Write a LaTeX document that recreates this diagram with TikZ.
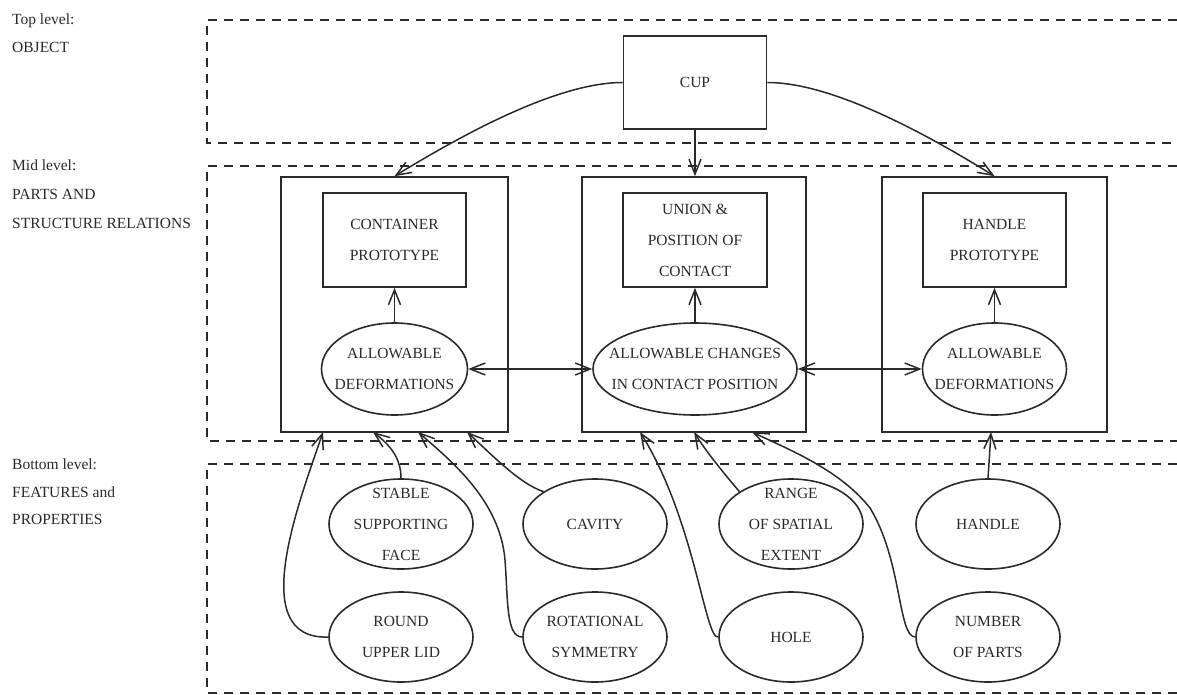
\documentclass[tikz,border=0pt]{standalone}
\usepackage{fontspec}
\setmainfont{Liberation Serif}
\usetikzlibrary{arrows.meta,shapes.geometric}
\definecolor{ink}{HTML}{2a2a2a}
\begin{document}
\begin{tikzpicture}[x=1pt,y=-1pt,
  box/.style={draw=ink, line width=1.6pt, rectangle, inner sep=0pt},
  ell/.style={draw=ink, line width=1.6pt, ellipse, inner sep=0pt, minimum width=144pt, minimum height=90pt},
  txt/.style={font=\fontsize{15.5pt}{31pt}\selectfont, align=center, text=ink, inner sep=0pt},
  lbl/.style={font=\fontsize{15.5pt}{18pt}\selectfont, anchor=base west, inner sep=0pt, text=ink},
  arr/.style={draw=ink, line width=1.5pt, -{Straight Barb[length=15pt,width=12pt]}},
  darr/.style={draw=ink, line width=1.5pt, {Straight Barb[length=15pt,width=12pt]}-{Straight Barb[length=15pt,width=12pt]}},
  dashline/.style={draw=ink, line width=1.6pt, dash pattern=on 9pt off 7pt}]
\useasboundingbox[fill=white] (0,0) rectangle (1177,695);

% level frames
\draw[dashline] (1177,20) -- (207,20) -- (207,143) -- (1177,143);
\draw[dashline] (1177,166) -- (207,166) -- (207,441) -- (1177,441);
\draw[dashline] (1177,464) -- (207,464) -- (207,693) -- (1177,693);

% level labels
\node[lbl] (t1) at (12,25) {Top level:};
\node[lbl] (t2) at (12,53) {OBJECT};
\node[lbl] (m1) at (12,171) {Mid level:};
\node[lbl] (m2) at (12,200) {PARTS AND};
\node[lbl] (m3) at (12,228) {STRUCTURE RELATIONS};
\node[lbl] (b1) at (12,469) {Bottom level:};
\node[lbl] (b2) at (12,497) {FEATURES and};
\node[lbl] (b3) at (12,524) {PROPERTIES};

% top
\node[box, minimum width=143pt, minimum height=93pt] (cup) at (695,82.5) {};
\node[txt] (cupt) at (cup) {CUP};

% mid outer boxes
\node[box, minimum width=227pt, minimum height=255pt] (Lout) at (394.5,304.5) {};
\node[box, minimum width=224pt, minimum height=255pt] (Mout) at (694,304.5) {};
\node[box, minimum width=225pt, minimum height=255pt] (Rout) at (994.5,304.5) {};

% inner boxes
\node[box, minimum width=143pt, minimum height=94pt] (Lin) at (394.5,240) {};
\node[txt] (Lint) at (Lin) {CONTAINER\\PROTOTYPE};
\node[box, minimum width=144pt, minimum height=94pt] (Min) at (695,240) {};
\node[txt] (Mint) at (Min) {UNION \&\\POSITION OF\\CONTACT};
\node[box, minimum width=143pt, minimum height=94pt] (Rin) at (994.5,240) {};
\node[txt] (Rint) at (Rin) {HANDLE\\PROTOTYPE};

% mid ellipses
\node[ell, minimum width=146pt, minimum height=92pt] (Ld) at (394.5,369) {};
\node[txt] (Ldt) at (Ld) {ALLOWABLE\\DEFORMATIONS};
\node[ell, minimum width=204pt, minimum height=92pt] (Md) at (695,369) {};
\node[txt] (Mdt) at (Md) {ALLOWABLE CHANGES\\IN CONTACT POSITION};
\node[ell, minimum width=144pt, minimum height=92pt] (Rd) at (994.5,369) {};
\node[txt] (Rdt) at (Rd) {ALLOWABLE\\DEFORMATIONS};

% bottom ellipses
\node[ell] (s1) at (401,524) {};
\node[txt] (s1t) at (s1) {STABLE\\SUPPORTING\\FACE};
\node[ell] (cav) at (595,524) {};
\node[txt] (cavt) at (cav) {CAVITY};
\node[ell] (rng) at (791,524) {};
\node[txt] (rngt) at (rng) {RANGE\\OF SPATIAL\\EXTENT};
\node[ell] (hd) at (988,524) {};
\node[txt] (hdt) at (hd) {HANDLE};
\node[ell] (rl) at (401,637) {};
\node[txt] (rlt) at (rl) {ROUND\\UPPER LID};
\node[ell] (rs) at (595,637) {};
\node[txt] (rst) at (rs) {ROTATIONAL\\SYMMETRY};
\node[ell] (hl) at (791,637) {};
\node[txt] (hlt) at (hl) {HOLE};
\node[ell] (np) at (988,637) {};
\node[txt] (npt) at (np) {NUMBER\\OF PARTS};

% attachment points on the box bottoms
\coordinate (Lb1) at (323,432);
\coordinate (Lb2) at (373,432);
\coordinate (Lb3) at (418,432);
\coordinate (Lb4) at (467,432);
\coordinate (Mb1) at (640,432);
\coordinate (Mb2) at (694,432);
\coordinate (Mb3) at (752,432);
\coordinate (Rb1) at (991,432);

% top arrows
\draw[arr] (cup.west) .. controls (560,82.5) and (470,130) .. (Lout.north);
\draw[arr] (cup.east) .. controls (830,82.5) and (920,130) .. (Rout.north);
\draw[arr] (cup.south) -- (cup.south |- Mout.north);

% inside mid boxes
\draw[arr] (Ld.north) -- (Lin.south);
\draw[arr] (Md.north) -- (Min.south);
\draw[arr] (Rd.north) -- (Rin.south);
\draw[darr] (Ld.east) -- (Md.west);
\draw[darr] (Md.east) -- (Rd.west);

% bottom to mid
\draw[arr] (rl.west) .. controls (245,640) and (300,500) .. (Lb1);
\draw[arr] (s1.north) .. controls (401,458) and (390,445) .. (Lb2);
\draw[arr] (rs.west) .. controls (506,637) and (508,600) .. (505,560)
  .. controls (500,500) and (450,460) .. (Lb3);
\draw[arr] (cav.north west) .. controls (520,484) and (492,455) .. (Lb4);
\draw[arr] (hl.west) .. controls (705,640) and (695,520) .. (Mb1);
\draw[arr] (rng.north west) .. controls (725,475) and (705,450) .. (Mb2);
\draw[arr] (np.west) .. controls (898,637) and (902,560) .. (870,508)
  .. controls (840,470) and (790,450) .. (Mb3);
\draw[arr] (hd.north) -- (Rb1);
\end{tikzpicture}
\end{document}
